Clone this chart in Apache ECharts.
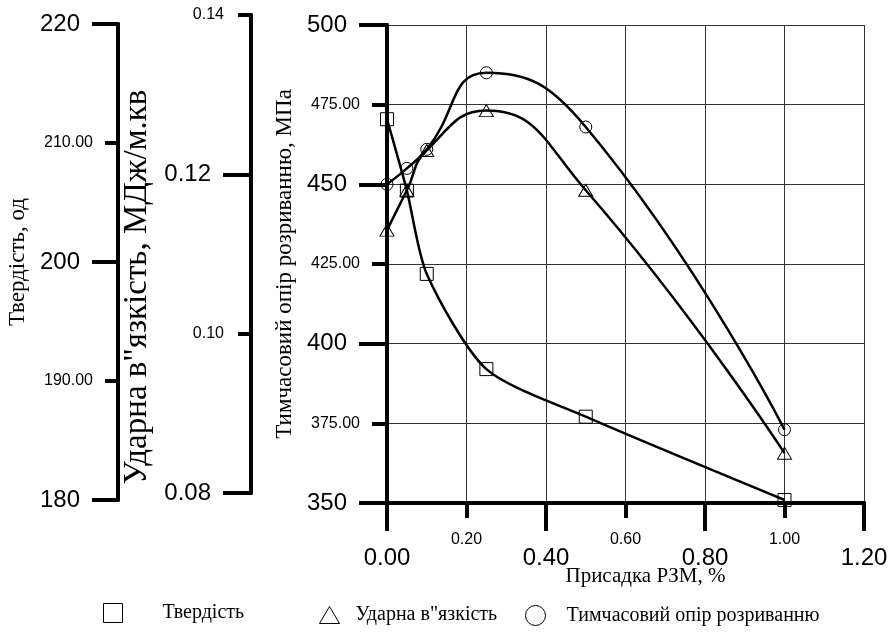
<!DOCTYPE html>
<html>
<head>
<meta charset="utf-8">
<title>Присадка РЗМ</title>
<script src="https://cdn.jsdelivr.net/npm/echarts@6/dist/echarts.min.js"></script>
<style>
html,body{margin:0;padding:0;background:#fff;}
#chart{width:892px;height:639px;}
</style>
</head>
<body>
<div id="chart"></div>
<script>
// дані з графіка
var additive = [0, 0.05, 0.1, 0.25, 0.5, 1.0]; // присадка РЗМ, %
var hardness = [212, 206, 199, 191, 187, 180]; // твердість, од
var impact = [0.113, 0.118, 0.123, 0.128, 0.118, 0.085]; // ударна в'язкість
var strength = [450, 455, 461, 485, 468, 373]; // тимчасовий опір, МПа

// поділки (великі / малі)
var xBig = [0, 0.4, 0.8, 1.2];
var xSmall = [0.2, 0.6, 1.0];
var sBig = [350, 400, 450, 500];
var sSmall = [375, 425, 475];
var hBig = [180, 200, 220];
var hSmall = [190, 210];
var iBig = [0.08, 0.12];
var iSmall = [0.10, 0.14];

var names = ['Твердість', 'Ударна в"язкість', 'Тимчасовий опір розриванню'];

function pairs(ys) {
	return additive.map(function (x, i) { return [x, ys[i]]; });
}

var SANS = '"Liberation Sans", Arial, sans-serif';
var SERIF = '"Liberation Serif", "Times New Roman", serif';
var BLACK = '#000';

function bigLabel(vals, margin, digits) {
	return {customValues: vals, margin: margin, color: BLACK, fontFamily: SANS, fontSize: 24,
		formatter: function (v) { return v.toFixed(digits); }};
}
function smallLabel(vals, margin, digits) {
	return {customValues: vals, margin: margin, color: BLACK, fontFamily: SANS, fontSize: 16,
		formatter: function (v) { return v.toFixed(digits); }};
}
function ticks(vals, len) {
	return {show: true, customValues: vals, length: len, lineStyle: {color: BLACK, width: 4}};
}
var thickLine = {show: true, onZero: false, lineStyle: {color: BLACK, width: 4}};
var grid = {show: true, lineStyle: {color: '#333', width: 1}};

function legendItem(name, icon, left, top, w, h, gap) {
	return {
		left: left, top: top, itemWidth: w, itemHeight: h, selectedMode: false,
		data: [{name: name, icon: icon, itemStyle: {color: '#fff', borderColor: BLACK, borderWidth: 1}}],
		textStyle: {fontFamily: SERIF, fontSize: 20, color: BLACK, padding: [0, 0, 0, gap]}
	};
}

var chart = echarts.init(document.getElementById('chart'));
chart.setOption({
	animation: false,
	backgroundColor: '#fff',
	grid: [
		{left: 387, right: 28, top: 25, bottom: 136, outerBoundsMode: 'none'}, // опір
		{left: 387, right: 28, top: 24, bottom: 139, outerBoundsMode: 'none'}, // твердість
		{left: 387, right: 28, top: 15, bottom: 146, outerBoundsMode: 'none'}  // ударна
	],
	legend: [
		legendItem(names[0], 'rect', 98, 598, 19, 19, 35),
		legendItem(names[1], 'triangle', 314, 600, 20, 17, 11),
		legendItem(names[2], 'circle', 520, 600, 20, 20, 16)
	],
	xAxis: [
		{gridIndex: 0, type: 'value', position: 'bottom', min: 0, max: 1.2, interval: 0.2, axisLine: thickLine,
			axisTick: ticks(xBig, 28), axisLabel: bigLabel(xBig, 43, 2), splitLine: grid},
		{gridIndex: 0, type: 'value', position: 'bottom', min: 0, max: 1.2, interval: 0.2, axisLine: thickLine,
			axisTick: ticks(xSmall, 15), axisLabel: smallLabel(xSmall, 29, 2), splitLine: grid,
			name: 'Присадка РЗМ, %', nameLocation: 'middle', nameGap: 63,
			nameTextStyle: {fontFamily: SERIF, fontSize: 21, color: BLACK, padding: [0, 0, 0, 40]}},
		{gridIndex: 1, type: 'value', min: 0, max: 1.2, show: false},
		{gridIndex: 2, type: 'value', min: 0, max: 1.2, show: false}
	],
	yAxis: [
		{gridIndex: 0, type: 'value', position: 'left', min: 350, max: 500, interval: 25, axisLine: thickLine,
			axisTick: ticks(sBig, 28), axisLabel: bigLabel(sBig, 40, 0), splitLine: grid,
			name: 'Тимчасовий опір розриванню, МПа', nameLocation: 'middle', nameGap: 86,
			nameTextStyle: {fontFamily: SERIF, fontSize: 23, color: BLACK}},
		{gridIndex: 0, type: 'value', position: 'left', min: 350, max: 500, interval: 25, axisLine: thickLine,
			axisTick: ticks(sSmall, 15), axisLabel: smallLabel(sSmall, 27, 2), splitLine: grid},
		{gridIndex: 1, type: 'value', position: 'left', min: 180, max: 220, interval: 10, offset: 269, axisLine: thickLine,
			axisTick: ticks(hBig, 26), axisLabel: bigLabel(hBig, 38, 0), splitLine: {show: false},
			name: 'Твердість, од', nameLocation: 'middle', nameGap: 84,
			nameTextStyle: {fontFamily: SERIF, fontSize: 23, color: BLACK}},
		{gridIndex: 1, type: 'value', position: 'left', min: 180, max: 220, interval: 10, offset: 269, axisLine: thickLine,
			axisTick: ticks(hSmall, 13), axisLabel: smallLabel(hSmall, 25, 2), splitLine: {show: false}},
		{gridIndex: 2, type: 'value', position: 'left', min: 0.08, max: 0.14, interval: 0.01, offset: 136, axisLine: thickLine,
			axisTick: ticks(iBig, 28), axisLabel: bigLabel(iBig, 40, 2), splitLine: {show: false},
			name: 'Ударна в"язкість, МДж/м.кв', nameLocation: 'middle', nameGap: 85,
			nameTextStyle: {fontFamily: SERIF, fontSize: 33, color: BLACK, padding: [0, 66, 0, 0]}},
		{gridIndex: 2, type: 'value', position: 'left', min: 0.08, max: 0.14, interval: 0.01, offset: 136, axisLine: thickLine,
			axisTick: ticks(iSmall, 13), axisLabel: smallLabel(iSmall, 27, 2), splitLine: {show: false}}
	],
	series: [
		{name: names[0], type: 'line', xAxisIndex: 2, yAxisIndex: 2, data: pairs(hardness),
			symbol: 'rect', symbolSize: 13, smooth: 0.25,
			lineStyle: {color: BLACK, width: 2.5},
			itemStyle: {color: 'transparent', borderColor: BLACK, borderWidth: 1}},
		{name: names[1], type: 'line', xAxisIndex: 3, yAxisIndex: 4, data: pairs(impact),
			symbol: 'triangle', symbolSize: [14, 12], smooth: true,
			lineStyle: {color: BLACK, width: 2.5},
			itemStyle: {color: 'transparent', borderColor: BLACK, borderWidth: 1}},
		{name: names[2], type: 'line', xAxisIndex: 0, yAxisIndex: 0, data: pairs(strength),
			symbol: 'circle', symbolSize: 12, smooth: true,
			lineStyle: {color: BLACK, width: 2.5},
			itemStyle: {color: 'transparent', borderColor: BLACK, borderWidth: 1}}
	]
});
</script>
</body>
</html>
